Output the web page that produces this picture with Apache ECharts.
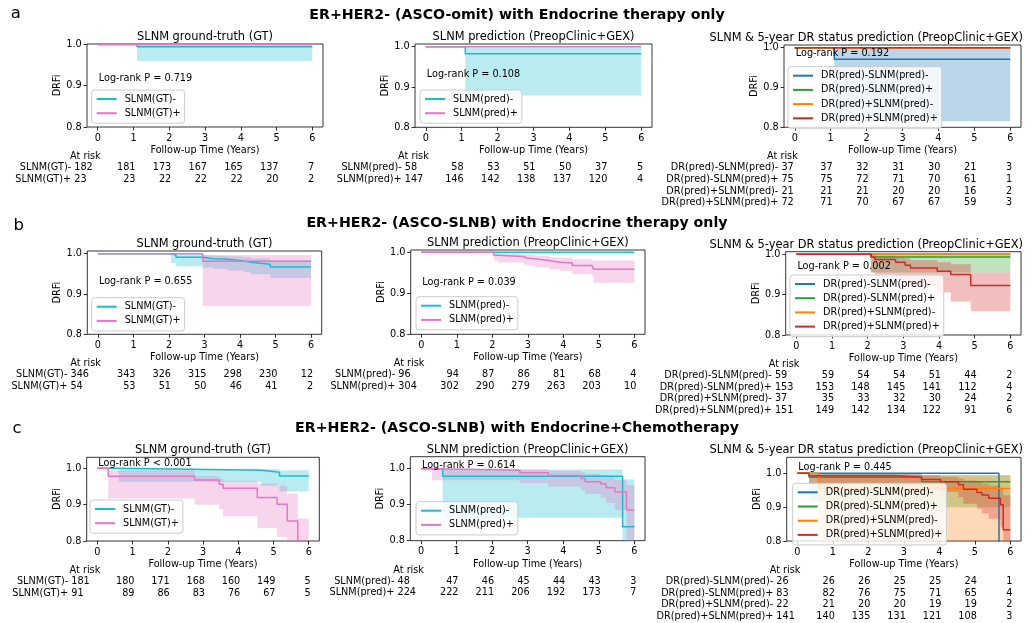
<!DOCTYPE html>
<html>
<head>
<meta charset="utf-8">
<script src="https://cdn.jsdelivr.net/npm/echarts@6.0.0/dist/echarts.min.js"></script>
<style>
html,body{margin:0;padding:0;background:#ffffff;}
#chart{width:1031px;height:623px;}
</style>
</head>
<body>
<div id="chart"></div>
<script>
// ================= DATA =================
const xTicks = [0, 1, 2, 3, 4, 5, 6];
const yTicks = [0.8, 0.9, 1.0];

const rowTitles = [
  'ER+HER2- (ASCO-omit) with Endocrine therapy only',
  'ER+HER2- (ASCO-SLNB) with Endocrine therapy only',
  'ER+HER2- (ASCO-SLNB) with Endocrine+Chemotherapy'
];
const rowLetters = ['a', 'b', 'c'];
const panelTitles = [
  'SLNM ground-truth (GT)',
  'SLNM prediction (PreopClinic+GEX)',
  'SLNM & 5-year DR status prediction (PreopClinic+GEX)'
];
const gtLabels = ['SLNM(GT)-', 'SLNM(GT)+'];
const predLabels = ['SLNM(pred)-', 'SLNM(pred)+'];
const drLabels = ['DR(pred)-SLNM(pred)-', 'DR(pred)-SLNM(pred)+', 'DR(pred)+SLNM(pred)-', 'DR(pred)+SLNM(pred)+'];
const logRankTexts = [
  'Log-rank P = 0.719', 'Log-rank P = 0.108', 'Log-rank P = 0.192',
  'Log-rank P = 0.655', 'Log-rank P = 0.039', 'Log-rank P = 0.002',
  'Log-rank P < 0.001', 'Log-rank P = 0.614', 'Log-rank P = 0.445'
];

// Kaplan-Meier rows: [time, survival, CI lower, CI upper]
// --- row a ---
const a1Neg = [[0,1,1,1],[1.1,0.9945,0.960,0.9992],[6,0.9945,0.960,0.9992]];
const a1Pos = [[0,1,1,1],[6,1,1,1]];
const a2Neg = [[0,1,1,1],[1.1,0.9828,0.879,0.998],[6,0.9828,0.879,0.998]];
const a2Pos = [[0,1,1,1],[6,1,1,1]];
const a3NN = [[0,1,1,1],[1.1,0.971,0.815,0.998],[6,0.971,0.815,0.998]];
const a3NP = [[0,1,1,1],[6,1,1,1]];
const a3PN = [[0,1,1,1],[6,1,1,1]];
const a3PP = [[0,1,1,1],[6,1,1,1]];
// --- row b ---
const b1Neg = [[0,1,1,1],[2.06,0.9967,0.977,0.9995],[2.2,0.991,0.969,0.998],[2.95,0.9876,0.965,0.996],
  [3.25,0.986,0.962,0.995],[3.65,0.982,0.958,0.993],[4.1,0.9785,0.954,0.991],[4.3,0.974,0.949,0.988],
  [4.85,0.967,0.94,0.984],[6,0.967,0.94,0.984]];
const b1Pos = [[0,1,1,1],[2.95,0.981,0.87,0.997],[6,0.981,0.87,0.997]];
const b2Neg = [[0,1,1,1],[6,1,1,1]];
const b2Pos = [[0,1,1,1],[2.04,0.993,0.98,0.999],[2.15,0.9895,0.975,0.997],[2.88,0.986,0.97,0.995],
  [2.97,0.984,0.968,0.994],[3.2,0.98,0.963,0.991],[3.6,0.976,0.958,0.988],[3.9,0.974,0.955,0.987],
  [4.25,0.968,0.947,0.983],[4.8,0.965,0.943,0.981],[4.85,0.9585,0.926,0.98],[6,0.9585,0.926,0.98]];
const b3NN = [[0,1,1,1],[6,1,1,1]];
const b3NP = [[0,1,1,1],[2.08,0.9935,0.955,0.999],[6,0.9935,0.955,0.999]];
const b3PN = [[0,1,1,1],[6,1,1,1]];
const b3PP = [[0,1,1,1],[2.1,0.993,0.955,0.999],[2.2,0.987,0.95,0.997],[2.78,0.98,0.94,0.993],
  [3.05,0.973,0.93,0.99],[3.2,0.966,0.92,0.985],[3.95,0.958,0.905,0.98],[4.33,0.95,0.883,0.975],
  [4.89,0.9225,0.859,0.955],[6,0.9225,0.859,0.955]];
// --- row c ---
const c1Neg = [[0,1,1,1],[0.61,0.9945,0.963,0.999],[4.65,0.989,0.952,0.998],[5.17,0.979,0.936,0.995],[6,0.979,0.936,0.995]];
const c1Pos = [[0,1,1,1],[0.31,0.978,0.917,0.994],[2.76,0.968,0.90,0.978],[3.46,0.956,0.888,0.972],
  [3.57,0.945,0.868,0.966],[4.54,0.92,0.835,0.958],[5.1,0.901,0.811,0.952],[5.39,0.855,0.74,0.931],
  [5.69,0.75,0.6,0.862],[6,0.75,0.6,0.862]];
const c2Neg = [[0,1,1,1],[0.61,0.979,0.864,0.998],[5.67,0.839,0.55,0.97],[6,0.839,0.55,0.97]];
const c2Pos = [[0,1,1,1],[0.31,0.9955,0.968,0.9995],[2.78,0.989,0.96,0.998],[3.58,0.981,0.95,0.994],
  [4.5,0.973,0.94,0.99],[4.62,0.964,0.93,0.986],[5.05,0.958,0.92,0.982],[5.2,0.947,0.905,0.977],
  [5.45,0.935,0.885,0.97],[5.78,0.885,0.7,0.955],[6,0.885,0.7,0.955]];
const c3NN = [[0,1,1,1],[5.68,0.5,0.2,0.78],[6,0.5,0.2,0.78]];
const c3NP = [[0,1,1,1],[0.33,0.988,0.918,0.998],[3.5,0.975,0.90,0.994],[6,0.975,0.90,0.994]];
const c3PN = [[0,1,1,1],[0.6,0.955,0.72,0.994],[6,0.955,0.72,0.994]];
const c3PP = [[0,1,1,1],[0.33,0.993,0.97,0.999],[2.76,0.989,0.962,0.997],[3.5,0.982,0.953,0.994],
  [4.03,0.975,0.945,0.99],[4.54,0.966,0.93,0.985],[4.68,0.953,0.91,0.979],[5.06,0.943,0.895,0.974],
  [5.2,0.936,0.882,0.97],[5.39,0.926,0.866,0.964],[5.72,0.907,0.84,0.955],[5.8,0.833,0.7,0.935],
  [6,0.833,0.7,0.935]];

// Number at risk at years 0..6
const a1Risk = [[182,181,173,167,165,137,7],[23,23,22,22,22,20,2]];
const a2Risk = [[58,58,53,51,50,37,5],[147,146,142,138,137,120,4]];
const a3Risk = [[37,37,32,31,30,21,3],[75,75,72,71,70,61,1],[21,21,21,20,20,16,2],[72,71,70,67,67,59,3]];
const b1Risk = [[346,343,326,315,298,230,12],[54,53,51,50,46,41,2]];
const b2Risk = [[96,94,87,86,81,68,4],[304,302,290,279,263,203,10]];
const b3Risk = [[59,59,54,54,51,44,2],[153,153,148,145,141,112,4],[37,35,33,32,30,24,2],[151,149,142,134,122,91,6]];
const c1Risk = [[181,180,171,168,160,149,5],[91,89,86,83,76,67,5]];
const c2Risk = [[48,47,46,45,44,43,3],[224,222,211,206,192,173,7]];
const c3Risk = [[26,26,26,25,25,24,1],[83,82,76,75,71,65,4],[22,21,20,20,19,19,2],[141,140,135,131,121,108,3]];

// ================= STYLE / LAYOUT =================
const FONT = 'DejaVu Sans';
const FS = 9.7;
const CYAN = '#17becf', PINK = '#e377c2', BLUE = '#1f77b4', GREEN = '#2ca02c', ORANGE = '#ff7f0e', RED = '#d62728';

// grid [left, top, width, height], y max, legend [left, top], log-rank y (data), first-column offset
const layout = [
  {g:[87,44,236,83],        yMax:1.001,  leg:[91.7,90],   lrY:0.918, off:-5},
  {g:[415,44,237,83.3],     yMax:1.0067, leg:[420,90],    lrY:0.930, off:-2.5},
  {g:[784,45,237,82.3],     yMax:1.0068, leg:[788,66.7],  lrY:0.986, off:-1},
  {g:[87.3,251,234.4,83.3], yMax:1.0067, leg:[91.7,297.7],lrY:0.932, off:-9},
  {g:[410.7,250,234.3,84.3],yMax:1.0056, leg:[416,296.7], lrY:0.927, off:-4.5},
  {g:[785.7,251.7,235.3,83.3],yMax:1.0064,leg:[790,275],  lrY:0.971, off:-3},
  {g:[86.7,457.3,232.6,83.7],yMax:1.0303,leg:[90,500],    lrY:1.012, off:-7.5},
  {g:[410.3,456.7,234.7,84],yMax:1.0333, leg:[416,501.7], lrY:1.010, off:-5},
  {g:[786.7,457.3,234.3,83.7],yMax:1.0473,leg:[792.7,483.3],lrY:1.016, off:-2.5}
];
const rowTitleY = [15.5, 223, 428.5];
const letterPos = [[10.7,13.3],[13.5,226],[12.4,428.3]];

const gtColors = [CYAN, PINK];
const drColors = [BLUE, GREEN, ORANGE, RED];
const panels = [
  {curves:[a1Neg,a1Pos], colors:gtColors, labels:gtLabels, risk:a1Risk},
  {curves:[a2Neg,a2Pos], colors:gtColors, labels:predLabels, risk:a2Risk},
  {curves:[a3NN,a3NP,a3PN,a3PP], colors:drColors, labels:drLabels, risk:a3Risk},
  {curves:[b1Neg,b1Pos], colors:gtColors, labels:gtLabels, risk:b1Risk},
  {curves:[b2Neg,b2Pos], colors:gtColors, labels:predLabels, risk:b2Risk},
  {curves:[b3NN,b3NP,b3PN,b3PP], colors:drColors, labels:drLabels, risk:b3Risk},
  {curves:[c1Neg,c1Pos], colors:gtColors, labels:gtLabels, risk:c1Risk},
  {curves:[c2Neg,c2Pos], colors:gtColors, labels:predLabels, risk:c2Risk},
  {curves:[c3NN,c3NP,c3PN,c3PP], colors:drColors, labels:drLabels, risk:c3Risk}
];

function rgba(hex, a) {
  const n = parseInt(hex.slice(1), 16);
  return 'rgba(' + ((n >> 16) & 255) + ',' + ((n >> 8) & 255) + ',' + (n & 255) + ',' + a + ')';
}

function bandSeries(gi, d, color, yMax) {
  return {
    type: 'custom', xAxisIndex: gi, yAxisIndex: gi, silent: true,
    dimensions: ['t', 's', 'lo', 'hi'],
    encode: {x: 0, y: 1},
    data: d,
    renderItem: function (params, api) {
      if (params.dataIndexInside !== 0) return null;
      const n = params.dataInsideLength;
      const cl = v => Math.max(0.8, Math.min(yMax, v));
      const up = [], lo = [];
      for (let j = 0; j < n - 1; j++) {
        const t0 = api.value(0, j), t1 = api.value(0, j + 1);
        const l = cl(api.value(2, j)), h = cl(api.value(3, j));
        up.push(api.coord([t0, h]), api.coord([t1, h]));
        lo.push(api.coord([t0, l]), api.coord([t1, l]));
      }
      return {type: 'polygon', shape: {points: up.concat(lo.reverse())}, style: {fill: rgba(color, 0.3), stroke: null}};
    }
  };
}

const grids = [], xAxes = [], yAxes = [], legends = [], series = [];
panels.forEach((p, gi) => {
  const L = layout[gi];
  grids.push({left: L.g[0], top: L.g[1], width: L.g[2], height: L.g[3], show: true,
    borderColor: '#000', borderWidth: 0.8, backgroundColor: 'rgba(0,0,0,0)'});
  xAxes.push({
    gridIndex: gi, type: 'value', min: -0.3, max: 6.3,
    axisLine: {show: false, onZero: false}, splitLine: {show: false},
    axisTick: {show: true, customValues: xTicks, length: 3.5, lineStyle: {color: '#000', width: 0.8}},
    axisLabel: {customValues: xTicks, margin: 6, fontFamily: FONT, fontSize: FS, color: '#000'},
    name: 'Follow-up Time (Years)', nameLocation: 'middle', nameGap: 18.5,
    nameTextStyle: {fontFamily: FONT, fontSize: FS, color: '#000'}
  });
  yAxes.push({
    gridIndex: gi, type: 'value', min: 0.8, max: L.yMax,
    axisLine: {show: false, onZero: false}, splitLine: {show: false},
    axisTick: {show: true, customValues: yTicks, length: 3.5, lineStyle: {color: '#000', width: 0.8}},
    axisLabel: {customValues: yTicks, margin: 5.3, fontFamily: FONT, fontSize: FS, color: '#000',
      formatter: v => Number(v).toFixed(1)},
    name: 'DRFi', nameLocation: 'middle', nameGap: 23, nameRotate: 90,
    nameTextStyle: {fontFamily: FONT, fontSize: FS, color: '#000'}
  });
  legends.push({
    data: p.labels.slice(), left: L.leg[0], top: L.leg[1], orient: 'vertical',
    itemWidth: 20, itemHeight: 10, itemGap: 4.2, padding: [4, 4, 5, 4],
    backgroundColor: 'rgba(255,255,255,0.8)', borderColor: '#cccccc', borderWidth: 1, borderRadius: 3,
    selectedMode: false,
    itemStyle: {opacity: 0},
    textStyle: {fontFamily: FONT, fontSize: FS, color: '#000', padding: [0, 0, 0, 3]}
  });
  p.curves.forEach((d, ci) => {
    const color = p.colors[ci];
    series.push(bandSeries(gi, d, color, L.yMax));
    series.push({
      type: 'line', name: p.labels[ci], xAxisIndex: gi, yAxisIndex: gi, step: 'end',
      symbol: 'none', showSymbol: false, clip: true,
      data: d.map(r => [r[0], r[1]]),
      lineStyle: {color: color, width: 1.5}, itemStyle: {color: color}
    });
  });
});

const chart = echarts.init(document.getElementById('chart'), null, {renderer: 'canvas'});
chart.setOption({
  animation: false,
  backgroundColor: '#ffffff',
  textStyle: {fontFamily: FONT},
  grid: grids, xAxis: xAxes, yAxis: yAxes, legend: legends, series: series
});

function txt(text, x, y, size, align, weight) {
  return {type: 'text', x: x, y: y, silent: true, z: 100,
    style: {text: text, fill: '#000', fontFamily: FONT, fontSize: size, fontWeight: weight || 'normal',
      align: align, verticalAlign: 'middle'}};
}

const els = [];
rowTitles.forEach((t, i) => els.push(txt(t, 517, rowTitleY[i], 14.2, 'center', 'bold')));
rowLetters.forEach((t, i) => els.push(txt(t, letterPos[i][0], letterPos[i][1], 16.5, 'left')));
panels.forEach((p, gi) => {
  const L = layout[gi];
  const col = gi % 3;
  const toPx = (x, y) => chart.convertToPixel({gridIndex: gi}, [x, y]);
  const tx = col === 2 ? 1023 : L.g[0] + L.g[2] / 2;
  els.push(txt(panelTitles[col], tx, L.g[1] - 7, 11.4, col === 2 ? 'right' : 'center'));
  const lp = toPx(0, L.lrY);
  els.push(txt(logRankTexts[gi], lp[0] + 1, lp[1], FS, 'left'));
  const bottom = L.g[1] + L.g[3];
  const x0 = toPx(xTicks[0], 0.9)[0];
  els.push(txt('At risk', x0 + 3, bottom + 29.5, FS, 'right'));
  const maxLen = Math.max.apply(null, p.risk.map(r => String(r[0]).length));
  p.risk.forEach((row, ri) => {
    const y = bottom + 40.5 + 11.6 * ri;
    const len = String(row[0]).length;
    els.push(txt(p.labels[ri] + ' ' + row[0], x0 + L.off - (maxLen - len) * 6.17, y, FS, 'right'));
    for (let k = 1; k < row.length; k++) {
      const xp = toPx(xTicks[k], 0.9)[0];
      els.push(txt(String(row[k]), xp + 2, y, FS, 'right'));
    }
  });
});
chart.setOption({graphic: {elements: els}});
</script>
</body>
</html>
